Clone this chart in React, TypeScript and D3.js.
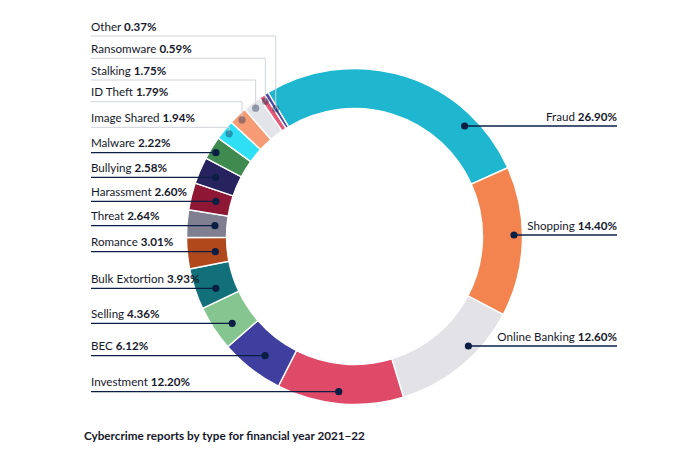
import * as d3 from 'd3';

// Cybercrime report share by type, FY 2021–22 (clockwise from Fraud)
const CATEGORIES = [
  'Fraud', 'Shopping', 'Online Banking', 'Investment', 'BEC', 'Selling', 'Bulk Extortion',
  'Romance', 'Threat', 'Harassment', 'Bullying', 'Malware', 'Image Shared', 'ID Theft',
  'Stalking', 'Ransomware', 'Other',
];
const VALUES = [26.9, 14.4, 12.6, 12.2, 6.12, 4.36, 3.93, 3.01, 2.64, 2.6, 2.58, 2.22, 1.94, 1.79, 1.75, 0.59, 0.37];
const VALUE_LABELS = [
  '26.90%', '14.40%', '12.60%', '12.20%', '6.12%', '4.36%', '3.93%', '3.01%', '2.64%', '2.60%',
  '2.58%', '2.22%', '1.94%', '1.79%', '1.75%', '0.59%', '0.37%',
];
const COLORS = [
  '#1fb6cf', '#f4844f', '#e2e2e7', '#e04a69', '#3f3f9f', '#85c690', '#12707a', '#b1481b',
  '#7f7f91', '#8d1735', '#27235e', '#3f8a4f', '#2fdff4', '#f79b74', '#e3e4e9', '#e05a78', '#4848a6',
];
const TITLE = 'Cybercrime reports by type for financial year 2021–22';

// leader layout: row y of underline, radius of the dot, side, and whether leader bends down
type Leader = { y: number; r: number; side: 'L' | 'R'; elbow?: boolean };
const LEADERS: Record<string, Leader> = {
  Other: { y: 36, r: 150, side: 'L', elbow: true },
  Ransomware: { y: 58.3, r: 162, side: 'L', elbow: true },
  Stalking: { y: 80, r: 162, side: 'L', elbow: true },
  'ID Theft': { y: 101.7, r: 162, side: 'L', elbow: true },
  'Image Shared': { y: 127.3, r: 162, side: 'L', elbow: true },
  Malware: { y: 152.7, r: 162, side: 'L' },
  Bullying: { y: 177.3, r: 151, side: 'L' },
  Harassment: { y: 201.3, r: 143, side: 'L' },
  Threat: { y: 225.7, r: 140, side: 'L' },
  Romance: { y: 251.7, r: 140, side: 'L' },
  'Bulk Extortion': { y: 288.3, r: 148, side: 'L' },
  Selling: { y: 323.3, r: 150, side: 'L' },
  BEC: { y: 355.7, r: 149, side: 'L' },
  Investment: { y: 391.7, r: 156, side: 'L' },
  Fraud: { y: 126, r: 156, side: 'R' },
  Shopping: { y: 235, r: 159.5, side: 'R' },
  'Online Banking': { y: 346, r: 158, side: 'R' },
};

const W = 681, H = 456;
const CX = 354.5, CY = 236.5;
const R_OUT = 168, R_IN = 128;
const LEFT_X = 91, RIGHT_X = 617;
const NAVY = '#0b1f45';
const TEXT = '#16182b';
const FONT = 'Lato, "Noto Sans", sans-serif';

export default function App() {
  const data = CATEGORIES.map((c, i) => ({ name: c, value: VALUES[i], label: VALUE_LABELS[i], color: COLORS[i] }));
  const start = (-31 * Math.PI) / 180;
  const pie = d3.pie<typeof data[number]>().value((d) => d.value).sort(null).startAngle(start).endAngle(start + 2 * Math.PI);
  const arcs = pie(data);
  const arc = d3.arc<d3.PieArcDatum<typeof data[number]>>().innerRadius(R_IN).outerRadius(R_OUT);

  return (
    <svg width={W} height={H} viewBox={`0 0 ${W} ${H}`} style={{ display: 'block', margin: -8 }} fontFamily={FONT}>
      <rect width={W} height={H} fill="#fff" />
      <g transform={`translate(${CX},${CY})`}>
        {arcs.map((a) => (
          <path key={a.data.name} d={arc(a) ?? ''} fill={a.data.color} stroke="#fff" strokeWidth={1.4} />
        ))}
      </g>
      {arcs.map((a) => {
        const L = LEADERS[a.data.name];
        const mid = (a.startAngle + a.endAngle) / 2;
        let dx: number, dy: number;
        if (L.elbow) {
          dx = CX + L.r * Math.sin(mid);
          dy = CY - L.r * Math.cos(mid);
        } else {
          const off = Math.sqrt(Math.max(0, L.r * L.r - (L.y - CY) * (L.y - CY)));
          dx = L.side === 'L' ? CX - off : CX + off;
          dy = L.y;
        }
        const light = !!L.elbow;
        const lineColor = light ? '#cfd3db' : NAVY;
        const path = L.elbow
          ? `M${LEFT_X},${L.y}H${dx}V${dy}`
          : L.side === 'L'
            ? `M${LEFT_X},${L.y}H${dx}`
            : `M${dx},${L.y}H${RIGHT_X}`;
        return (
          <g key={a.data.name}>
            <path d={path} fill="none" stroke={lineColor} strokeWidth={light ? 1 : 1.3} />
            <circle cx={dx} cy={dy} r={3.6} fill={NAVY} opacity={light ? 0.38 : 1} />
            <text
              x={L.side === 'L' ? LEFT_X : RIGHT_X}
              y={L.y - 5.5}
              textAnchor={L.side === 'L' ? 'start' : 'end'}
              fontSize={11.6}
              fill={TEXT}
            >
              {a.data.name + ' '}
              <tspan fontWeight="bold">{a.data.label}</tspan>
            </text>
          </g>
        );
      })}
      <text x={84} y={440} fontSize={11.7} fontWeight="bold" fill={TEXT}>{TITLE}</text>
    </svg>
  );
}
